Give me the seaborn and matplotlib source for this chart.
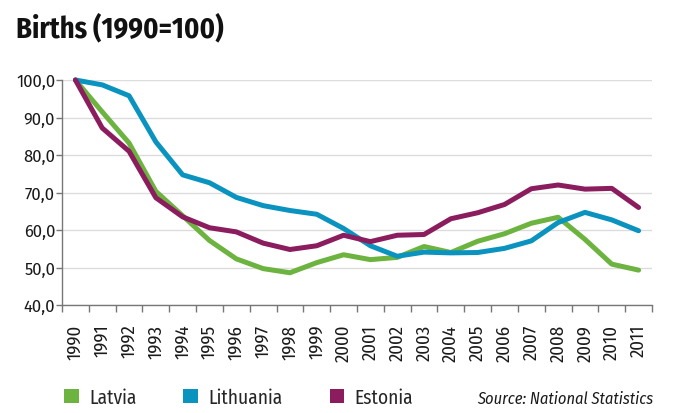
import numpy as np
import pandas as pd
import matplotlib
matplotlib.use("Agg")
import matplotlib.pyplot as plt
import seaborn as sns
from matplotlib.patches import Patch

# Data (index, 1990 = 100)
years = [str(y) for y in range(1990, 2012)]
latvia = [100.0, 91.5, 83.2, 70.3, 63.8, 57.2, 52.3, 49.7, 48.6, 51.3, 53.4,
          52.1, 52.7, 55.6, 54.0, 57.0, 59.0, 61.8, 63.4, 57.5, 50.9, 49.3]
lithuania = [100.0, 98.7, 95.8, 83.5, 74.7, 72.6, 68.7, 66.5, 65.2, 64.2, 60.4,
             55.8, 53.0, 54.1, 53.9, 54.0, 55.1, 57.1, 62.0, 64.7, 62.7, 59.8]
estonia = [100.0, 87.2, 81.0, 68.6, 63.5, 60.6, 59.5, 56.5, 54.8, 55.8, 58.6,
           56.9, 58.6, 58.8, 63.0, 64.6, 66.8, 71.0, 72.0, 70.9, 71.1, 66.0]
countries = ["Latvia", "Lithuania", "Estonia"]
colors = ["#6db33f", "#0b93c0", "#8b1d5f"]

df = pd.DataFrame({
    "idx": list(range(len(years))) * 3,
    "value": latvia + lithuania + estonia,
    "country": [c for c in countries for _ in years],
})

sns.set_style("white")
plt.rcParams["font.family"] = ["Fira Sans", "DejaVu Sans"]
narrow = ["Fira Sans Condensed", "DejaVu Sans"]

fig = plt.figure(figsize=(6.8, 4.14), dpi=100)
ax = fig.add_axes([62 / 680, 1 - 306 / 414, (652 - 62) / 680, (306 - 81) / 414])

sns.lineplot(data=df, x="idx", y="value", hue="country", hue_order=countries,
             palette=colors, linewidth=3.6, legend=False, ax=ax)
for ln in ax.lines:
    ln.set_clip_on(False)
    ln.set_solid_joinstyle("round")

ax.set_xlim(-0.5, len(years) - 0.5)
ax.set_ylim(40, 100)
ax.set_yticks(np.arange(40, 101, 10))
ax.set_yticklabels([f"{v:.1f}".replace(".", ",") for v in np.arange(40, 101, 10)],
                   fontsize=12, color="#1a1a1a")
ax.set_xticks(range(len(years)))
ax.set_xticklabels(years, rotation=90, family=narrow, fontsize=13.5, color="#1a1a1a")
ax.set_xticks(np.arange(-0.5, len(years), 1), minor=True)
ax.tick_params(axis="x", which="major", length=0, pad=13.5)
ax.tick_params(axis="x", which="minor", length=5, width=1, color="#777777", direction="out", bottom=True)
ax.tick_params(axis="y", length=4, width=1, color="#777777", pad=1, left=True)
ax.set_xlabel("")
ax.set_ylabel("")

ax.grid(axis="y", color="#dcdcdc", linewidth=1)
ax.set_axisbelow(True)
sns.despine(ax=ax)
for s in ["left", "bottom"]:
    ax.spines[s].set_color("#777777")
    ax.spines[s].set_linewidth(1)

fig.text(16 / 680, 1 - 37 / 414, "Births (1990=100)", family=narrow,
         fontweight="bold", fontsize=20.5, va="baseline", ha="left", color="#111111")

handles = [Patch(facecolor=c, edgecolor="none", label=n) for c, n in zip(colors, countries)]
fig.legend(handles=handles, loc="center left", bbox_to_anchor=(64 / 680, 1 - 398 / 414),
           ncol=3, frameon=False, borderpad=0, borderaxespad=0,
           handlelength=0.75, handleheight=0.7, handletextpad=0.55, columnspacing=2.4,
           prop={"family": narrow, "size": 14})

fig.text(653 / 680, 1 - 404 / 414, "Source: National Statistics", family=narrow,
         style="italic", fontsize=11.8, ha="right", va="baseline", color="#1a1a1a")

fig.savefig("out.png", dpi=100)
